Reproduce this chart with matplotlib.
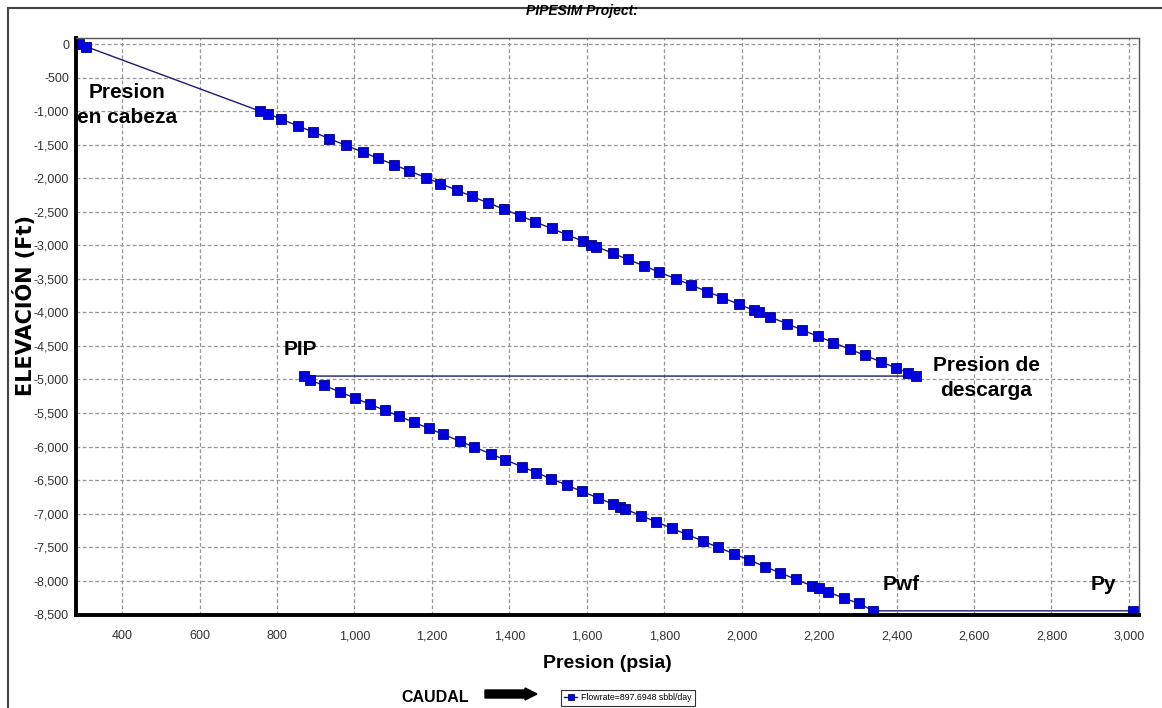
import matplotlib
matplotlib.use("Agg")
import matplotlib.pyplot as plt
from matplotlib.patches import Rectangle, FancyArrow
from matplotlib.ticker import FuncFormatter, MultipleLocator

# data
# wellhead -> pump discharge (tubing above pump)
presion_tubing = [290, 308, 756, 777, 811, 854, 893, 935, 978, 1021, 1060,
                  1102, 1141, 1184, 1222, 1265, 1303, 1346, 1385, 1428, 1466,
                  1509, 1548, 1590, 1612, 1625, 1667, 1706, 1749, 1787, 1830,
                  1868, 1911, 1950, 1993, 2031, 2044, 2074, 2117, 2155, 2198,
                  2237, 2279, 2318, 2361, 2399, 2429, 2450]
elev_tubing = [0, -40, -1000, -1040, -1120, -1220, -1310, -1410, -1510,
               -1610, -1700, -1800, -1890, -1990, -2080, -2180, -2270, -2370,
               -2460, -2560, -2650, -2750, -2840, -2940, -2990, -3020, -3120,
               -3210, -3310, -3400, -3500, -3590, -3690, -3780, -3880, -3970,
               -4000, -4070, -4170, -4260, -4360, -4450, -4550, -4640, -4740,
               -4830, -4900, -4950]

# pump intake -> bottom hole (Pwf) -> reservoir (Py)
presion_fondo = [870, 885, 922, 964, 1002, 1040, 1078, 1116, 1154, 1192, 1230,
                 1272, 1310, 1352, 1390, 1432, 1470, 1508, 1550, 1588, 1630,
                 1668, 1685, 1698, 1740, 1778, 1820, 1858, 1900, 1938, 1980,
                 2018, 2060, 2098, 2140, 2182, 2200, 2222, 2265, 2302, 2340,
                 3010]
elev_fondo = [-4950, -5010, -5090, -5190, -5280, -5370, -5460, -5550, -5640,
              -5730, -5820, -5920, -6010, -6110, -6200, -6300, -6390, -6480,
              -6580, -6670, -6770, -6860, -6900, -6930, -7030, -7120, -7220,
              -7310, -7410, -7500, -7600, -7690, -7790, -7880, -7980, -8080,
              -8110, -8170, -8260, -8340, -8450, -8450]

presion = presion_tubing + presion_fondo
elevacion = elev_tubing + elev_fondo

label_serie = 'Flowrate=897.6948 sbbl/day'

arial = ['Liberation Sans', 'DejaVu Sans']

fig = plt.figure(figsize=(11.62, 7.08), dpi=100)
W, H = 1162, 708
ax = fig.add_axes([76 / W, 1 - 615 / H, (1139 - 76) / W, (615 - 38) / H])

line, = ax.plot(presion, elevacion, color='#1c1c70', lw=1.0,
                marker='s', markersize=7, markerfacecolor='#0000e0',
                markeredgecolor='#00008c', markeredgewidth=0.6,
                label=label_serie)

ax.set_xlim(281, 3026)
ax.set_ylim(-8512, 90)
ax.xaxis.set_major_locator(MultipleLocator(200))
ax.yaxis.set_major_locator(MultipleLocator(500))
fmt = FuncFormatter(lambda v, p: '{:,.0f}'.format(v))
ax.xaxis.set_major_formatter(fmt)
ax.yaxis.set_major_formatter(fmt)
ax.grid(True, color='#949494', lw=0.9, linestyle=(0, (3, 2)))
ax.set_axisbelow(True)
ax.tick_params(length=0, labelsize=9, labelcolor='#333333')
ax.tick_params(axis='x', pad=11)
ax.tick_params(axis='y', pad=5)
for lab in ax.get_xticklabels() + ax.get_yticklabels():
    lab.set_family(arial)

for side in ['left', 'bottom']:
    ax.spines[side].set_linewidth(2.8)
    ax.spines[side].set_color('black')
for side in ['top', 'right']:
    ax.spines[side].set_linewidth(1.0)
    ax.spines[side].set_color('#555555')

ax.set_xlabel('Presion (psia)', fontsize=14, fontweight='bold',
              family=arial, labelpad=9)
fig.text(25 / W, 1 - 305 / H, 'ELEVACIÓN (Ft)', rotation=90, fontsize=15,
         fontweight='bold', ha='center', va='center')

fig.text(582 / W, 1 - 11 / H, 'PIPESIM Project:', fontsize=10,
         fontweight='bold', style='italic', ha='center', va='center',
         family=arial)

# annotations
ann = dict(fontsize=15, fontweight='bold', family=arial, color='black')
ax.text(413, -910, 'Presion\nen cabeza', ha='center', va='center',
        linespacing=1.4, **ann)
ax.text(860, -4548, 'PIP', ha='center', va='center', **ann)
ax.text(2631, -4980, 'Presion de\ndescarga', ha='center', va='center',
        linespacing=1.4, **ann)
ax.text(2411, -8051, 'Pwf', ha='center', va='center', **ann)
ax.text(2935, -8051, 'Py', ha='center', va='center', **ann)

# bottom: CAUDAL + arrow + legend
fig.text(435 / W, 1 - 697 / H, 'CAUDAL', fontsize=11.5, fontweight='bold',
         family=arial, ha='center', va='center')
fig.patches.append(FancyArrow(485 / W, 1 - 694 / H, 40 / W, 0,
                              width=8 / H, head_width=12 / H,
                              head_length=12 / W, length_includes_head=False,
                              color='black', transform=fig.transFigure,
                              figure=fig))
leg = fig.legend(handles=[line], loc='center left',
                 bbox_to_anchor=(557 / W, 1 - 698 / H),
                 frameon=True, fancybox=False, edgecolor='black',
                 handlelength=1.4, handletextpad=0.5, borderpad=0.35,
                 markerscale=0.6, prop={'family': arial, 'size': 6.3})
leg.get_frame().set_linewidth(0.8)

# outer frame of the window
fig.patches.append(Rectangle((8 / W, -0.05), 1.2, 1 - 8 / H + 0.05,
                             fill=False, edgecolor='#444444', lw=1.5,
                             transform=fig.transFigure, figure=fig))

plt.savefig('out.png', dpi=100)
